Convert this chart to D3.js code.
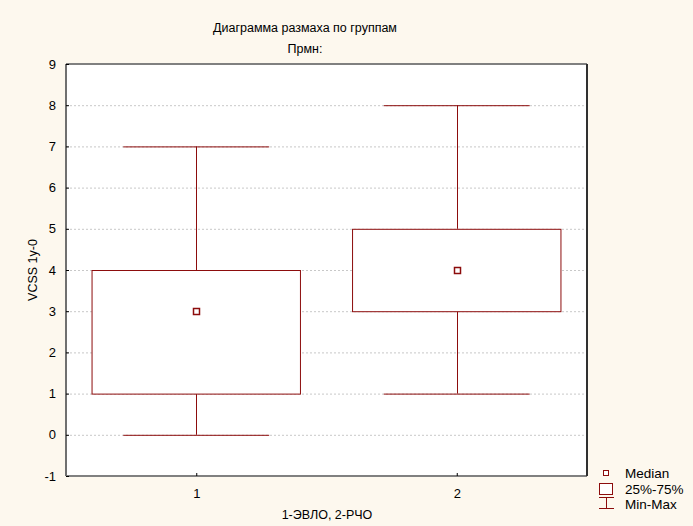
<!DOCTYPE html>
<html><head><meta charset="utf-8">
<script src="https://cdn.jsdelivr.net/npm/d3@7"></script>
<style>body{margin:0;background:#fdf8ee;} svg{display:block;}</style>
</head><body>
<script>
const categories = [1, 2];
const mins = [0, 1];
const q1s = [1, 3];
const medians = [3, 4];
const q3s = [4, 5];
const maxs = [7, 8];
const yTicks = [-1,0,1,2,3,4,5,6,7,8,9];
const legendLabels = ["Median", "25%-75%", "Min-Max"];

const W = 693, H = 526;
const m = {left: 66, right: 587, top: 64, bottom: 476};
const red = "#8c0c0c";
const font = "Liberation Sans, Arial, sans-serif";

const svg = d3.select("body").append("svg").attr("width", W).attr("height", H);
svg.append("rect").attr("width", W).attr("height", H).attr("fill", "#fdf8ee");

const x = d3.scaleLinear().domain([0.5, 2.5]).range([m.left, m.right]);
const y = d3.scaleLinear().domain([-1, 9]).range([m.bottom, m.top]);

svg.append("rect").attr("x", m.left).attr("y", m.top)
  .attr("width", m.right - m.left).attr("height", m.bottom - m.top).attr("fill", "#fff");

// gridlines
svg.append("g").selectAll("line").data(yTicks.filter(t => t > -1 && t < 9)).join("line")
  .attr("x1", m.left).attr("x2", m.right)
  .attr("y1", d => y(d) + 0.5).attr("y2", d => y(d) + 0.5)
  .attr("stroke", "#c8c8c8").attr("stroke-dasharray", "2,2").attr("stroke-width", 1);

const data = categories.map((c, i) => ({c, min: mins[i], q1: q1s[i], med: medians[i], q3: q3s[i], max: maxs[i]}));
const bw = x(0.4) - x(0);
const cw = x(0.28) - x(0);

const g = svg.append("g");
data.forEach(d => {
  const cx = Math.round(x(d.c)) + 0.5;
  g.append("line").attr("x1", cx).attr("x2", cx).attr("y1", y(d.max)).attr("y2", y(d.q3)).attr("stroke", red);
  g.append("line").attr("x1", cx).attr("x2", cx).attr("y1", y(d.q1)).attr("y2", y(d.min)).attr("stroke", red);
  g.append("line").attr("x1", x(d.c) - cw).attr("x2", x(d.c) + cw).attr("y1", y(d.max) + 0.5).attr("y2", y(d.max) + 0.5).attr("stroke", red);
  g.append("line").attr("x1", x(d.c) - cw).attr("x2", x(d.c) + cw).attr("y1", y(d.min) + 0.5).attr("y2", y(d.min) + 0.5).attr("stroke", red);
  g.append("rect").attr("x", x(d.c) - bw).attr("y", y(d.q3) + 0.5)
    .attr("width", 2 * bw).attr("height", y(d.q1) - y(d.q3))
    .attr("fill", "#fff").attr("stroke", red);
  g.append("rect").attr("x", cx - 3).attr("y", Math.round(y(d.med)) - 2.5).attr("width", 6).attr("height", 6)
    .attr("fill", "#fff").attr("stroke", red).attr("stroke-width", 1.5);
});

// frame
svg.append("line").attr("x1", m.left).attr("x2", m.right).attr("y1", m.top).attr("y2", m.top).attr("stroke", "#808080").attr("stroke-width", 2);
svg.append("line").attr("x1", m.left).attr("x2", m.right).attr("y1", m.bottom).attr("y2", m.bottom).attr("stroke", "#808080").attr("stroke-width", 2);
svg.append("line").attr("x1", m.left).attr("x2", m.left).attr("y1", m.top).attr("y2", m.bottom).attr("stroke", "#707070").attr("stroke-width", 2);
svg.append("line").attr("x1", m.right).attr("x2", m.right).attr("y1", m.top).attr("y2", m.bottom).attr("stroke", "#303030").attr("stroke-width", 2);

// axes
const yAxis = d3.axisLeft(y).tickValues(yTicks).tickSize(-3).tickPadding(10).tickFormat(d => String(d));
const ya = svg.append("g").attr("transform", `translate(${m.left},0)`).call(yAxis);
ya.select(".domain").remove();
ya.selectAll("line").attr("stroke", "#000");
ya.selectAll("text").attr("font-family", font).attr("font-size", 13).attr("fill", "#000");

const xAxis = d3.axisBottom(x).tickValues(categories).tickSize(-3).tickPadding(13).tickFormat(d => String(d));
const xa = svg.append("g").attr("transform", `translate(0,${m.bottom})`).call(xAxis);
xa.select(".domain").remove();
xa.selectAll("line").attr("stroke", "#000");
xa.selectAll("text").attr("font-family", font).attr("font-size", 13).attr("fill", "#000");

// titles
svg.append("text").attr("x", 305).attr("y", 32).attr("text-anchor", "middle")
  .attr("font-family", font).attr("font-size", 12.5).text("Диаграмма размаха по группам");
svg.append("text").attr("x", 305).attr("y", 53).attr("text-anchor", "middle")
  .attr("font-family", font).attr("font-size", 12.5).text("Прмн:");
svg.append("text").attr("x", 327).attr("y", 519).attr("text-anchor", "middle")
  .attr("font-family", font).attr("font-size", 12.5).text("1-ЭВЛО, 2-РЧО");
svg.append("text").attr("transform", "translate(37,270) rotate(-90)").attr("text-anchor", "middle")
  .attr("font-family", font).attr("font-size", 12.5).text("VCSS 1y-0");

// legend
const lg = svg.append("g");
lg.append("rect").attr("x", 603.5).attr("y", 470.5).attr("width", 5).attr("height", 5).attr("fill", "#fff").attr("stroke", red);
lg.append("rect").attr("x", 599.5).attr("y", 483.5).attr("width", 13).attr("height", 11).attr("fill", "#fff").attr("stroke", red);
lg.append("line").attr("x1", 599).attr("x2", 614).attr("y1", 497.5).attr("y2", 497.5).attr("stroke", red);
lg.append("line").attr("x1", 606.5).attr("x2", 606.5).attr("y1", 497).attr("y2", 508).attr("stroke", red);
lg.append("line").attr("x1", 599).attr("x2", 614).attr("y1", 508.5).attr("y2", 508.5).attr("stroke", red);
lg.selectAll("text.lab").data(legendLabels).join("text").attr("class", "lab")
  .attr("x", 625).attr("y", (d, i) => 478 + i * 15.5)
  .attr("font-family", font).attr("font-size", 13.5).text(d => d);
</script>
</body></html>
